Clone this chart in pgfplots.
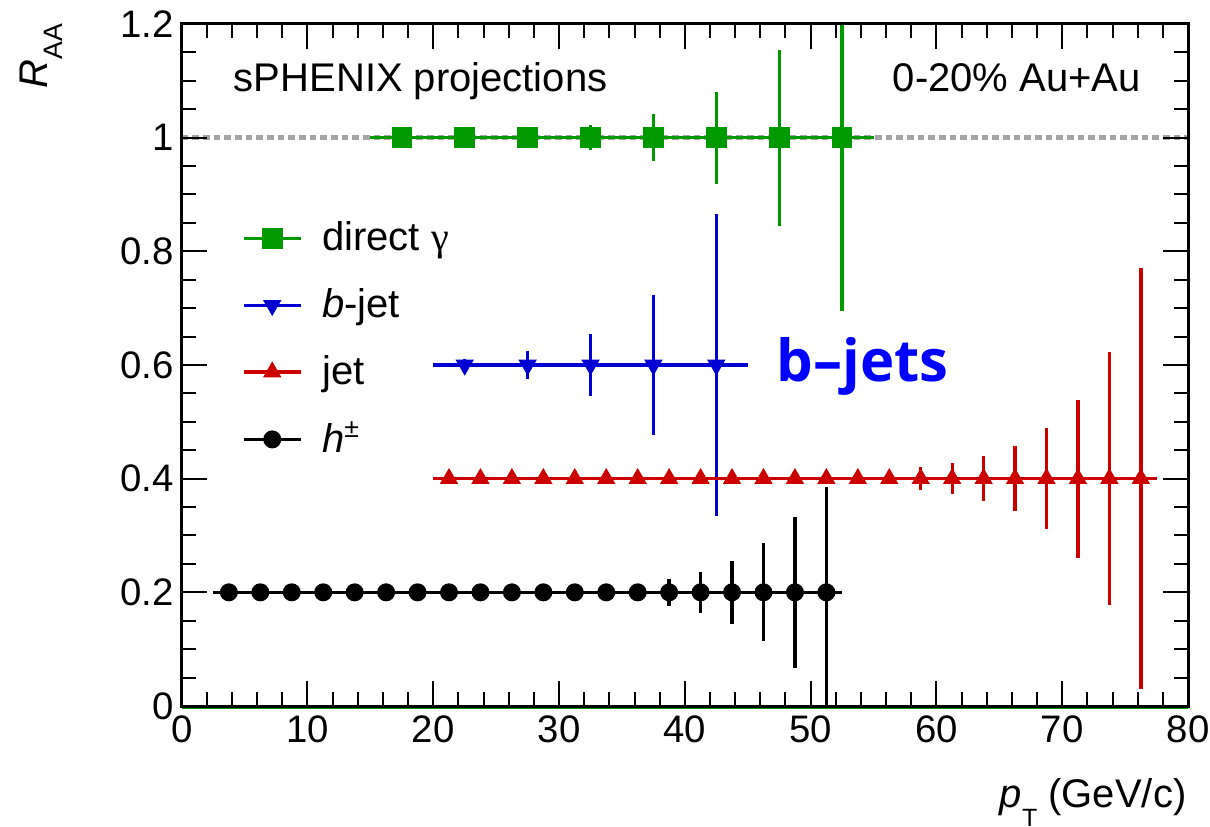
\documentclass[border=0pt]{standalone}
\usepackage{fontspec}
\setmainfont{Liberation Sans}
\newfontfamily\serifg{Liberation Serif}
\newfontfamily\bjfont{Open Sans}
\usepackage{pgfplots}
\pgfplotsset{compat=1.18}
\usepackage{pgfplotstable}

\definecolor{cgreen}{RGB}{0,153,0}
\definecolor{cblue}{RGB}{0,0,210}
\definecolor{cred}{RGB}{205,0,0}
\definecolor{cgray}{RGB}{165,165,165}
\definecolor{bjblue}{RGB}{0,0,255}

\pgfplotstableread{
x y ex ep em
17.5 1 2.5 0.003 0.003
22.5 1 2.5 0.006 0.006
27.5 1 2.5 0.011 0.011
32.5 1 2.5 0.022 0.022
37.5 1 2.5 0.041 0.041
42.5 1 2.5 0.081 0.081
47.5 1 2.5 0.155 0.155
52.5 1 2.5 0.200 0.305
}\gamtab

\pgfplotstableread{
x y ex ep em
22.5 0.6 2.5 0.010 0.010
27.5 0.6 2.5 0.024 0.024
32.5 0.6 2.5 0.054 0.054
37.5 0.6 2.5 0.123 0.123
42.5 0.6 2.5 0.266 0.266
}\bjettab

\pgfplotstableread{
x y ex ep em
21.25 0.4 1.25 0.002 0.002
23.75 0.4 1.25 0.002 0.002
26.25 0.4 1.25 0.002 0.002
28.75 0.4 1.25 0.003 0.003
31.25 0.4 1.25 0.003 0.003
33.75 0.4 1.25 0.003 0.003
36.25 0.4 1.25 0.003 0.003
38.75 0.4 1.25 0.004 0.004
41.25 0.4 1.25 0.004 0.004
43.75 0.4 1.25 0.004 0.004
46.25 0.4 1.25 0.005 0.005
48.75 0.4 1.25 0.005 0.005
51.25 0.4 1.25 0.005 0.005
53.75 0.4 1.25 0.006 0.006
56.25 0.4 1.25 0.008 0.008
58.75 0.4 1.25 0.020 0.020
61.25 0.4 1.25 0.027 0.027
63.75 0.4 1.25 0.039 0.039
66.25 0.4 1.25 0.057 0.057
68.75 0.4 1.25 0.089 0.089
71.25 0.4 1.25 0.139 0.139
73.75 0.4 1.25 0.223 0.223
76.25 0.4 1.25 0.370 0.370
}\jettab

\pgfplotstableread{
x y ex ep em
3.75 0.2 1.25 0.002 0.002
6.25 0.2 1.25 0.002 0.002
8.75 0.2 1.25 0.002 0.002
11.25 0.2 1.25 0.002 0.002
13.75 0.2 1.25 0.002 0.002
16.25 0.2 1.25 0.002 0.002
18.75 0.2 1.25 0.003 0.003
21.25 0.2 1.25 0.003 0.003
23.75 0.2 1.25 0.003 0.003
26.25 0.2 1.25 0.003 0.003
28.75 0.2 1.25 0.004 0.004
31.25 0.2 1.25 0.005 0.005
33.75 0.2 1.25 0.006 0.006
36.25 0.2 1.25 0.012 0.012
38.75 0.2 1.25 0.0235 0.0235
41.25 0.2 1.25 0.036 0.036
43.75 0.2 1.25 0.055 0.055
46.25 0.2 1.25 0.086 0.086
48.75 0.2 1.25 0.133 0.133
51.25 0.2 1.25 0.186 0.200
}\hadtab

\pgfplotstableread{
x y
0 1
80 1
}\onetab

\pgfplotstableread{
x y
0 -0.004
80 -0.004
}\zerotab

\begin{document}
\begin{tikzpicture}
\useasboundingbox (-54.51pt,-36.3pt) rectangle (308.49pt,211.8pt);
\begin{axis}[
  at={(0pt,0pt)}, anchor=south west,
  scale only axis, width=301.9pt, height=204.6pt,
  xmin=0, xmax=80, ymin=0, ymax=1.2,
  xtick={0,10,20,30,40,50,60,70,80},
  ytick={0,0.2,0.4,0.6,0.8,1,1.2},
  minor x tick num=4, minor y tick num=3,
  tick align=inside, xtick pos=both, ytick pos=both,
  xticklabel pos=lower, yticklabel pos=left,
  axis line style={line width=0.9pt},
  every tick/.style={black, line width=0.6pt},
  major tick length=7.5pt, minor tick length=4.2pt,
  tick label style={font=\fontsize{11.5}{13}\selectfont},
  xticklabel style={inner sep=0pt, yshift=-2.7pt},
  yticklabel style={inner sep=0pt, xshift=-2.2pt},
  /pgf/number format/assume math mode=true,
  clip=false,
  axis on top,
  xlabel={{\itshape p}\raisebox{-5.6pt}{\fontsize{7.5}{9}\selectfont T} (GeV/c)},
  xlabel style={at={(rel axis cs:0.999,-0.1056)}, anchor=north east, inner sep=0pt, font=\fontsize{12}{14.4}\selectfont},
  ylabel={{\itshape R}\raisebox{-4.5pt}{\fontsize{8}{9}\selectfont AA}},
  ylabel style={at={(rel axis cs:-0.1177,1.0015)}, anchor=south east, inner sep=0pt, font=\fontsize{12}{14.4}\selectfont},
  legend style={at={(axis description cs:0.0595,0.7208)}, anchor=north west, draw=none, fill=none,
    font=\fontsize{12}{14.4}\selectfont, row sep=5.8pt, column sep=4pt, inner sep=0pt, cells={anchor=west}},
  legend image code/.code={\draw[mark repeat=2, mark phase=2, #1] plot coordinates {(0pt,0pt) (8.5pt,0pt) (17pt,0pt)};},
  error bars/error bar style={line width=1pt},
]
\addplot[forget plot, cgray, line width=1.6pt, dash pattern=on 2pt off 1.2pt] table[x=x,y=y] {\onetab};
\addplot[forget plot, cgreen, line width=0.7pt] table[x=x,y=y] {\zerotab};

\addplot[cgreen, line width=1pt, mark=square*, mark size=2.9pt, mark options={solid, line width=0.4pt, fill=cgreen},
  error bars/.cd, x dir=both, x explicit, y dir=both, y explicit, error mark=none]
  table[x=x, y=y, x error=ex, y error plus=ep, y error minus=em] {\gamtab};
\addlegendentry{direct {\serifg γ}}

\addplot[cblue, line width=1pt, mark=triangle*, mark size=2.8pt, mark options={solid, line width=0.4pt, fill=cblue, rotate=180},
  error bars/.cd, x dir=both, x explicit, y dir=both, y explicit, error mark=none]
  table[x=x, y=y, x error=ex, y error plus=ep, y error minus=em] {\bjettab};
\addlegendentry{{\itshape b}-jet}

\addplot[cred, line width=1pt, mark=triangle*, mark size=2.8pt, mark options={solid, line width=0.4pt, fill=cred},
  error bars/.cd, x dir=both, x explicit, y dir=both, y explicit, error mark=none]
  table[x=x, y=y, x error=ex, y error plus=ep, y error minus=em] {\jettab};
\addlegendentry{jet}

\addplot[black, line width=1pt, mark=*, mark size=2.5pt, mark options={solid, line width=0.4pt, fill=black},
  error bars/.cd, x dir=both, x explicit, y dir=both, y explicit, error mark=none]
  table[x=x, y=y, x error=ex, y error plus=ep, y error minus=em] {\hadtab};
\addlegendentry{{\itshape h}\textsuperscript{±}}

\node[anchor=base west, inner sep=0pt, font=\fontsize{12}{14.4}\selectfont] at (axis cs:4.1,1.081) {sPHENIX projections};
\node[anchor=base east, inner sep=0pt, font=\fontsize{12}{14.4}\selectfont] at (axis cs:76.3,1.081) {0-20\% Au+Au};
\node[anchor=base west, inner sep=0pt, text=bjblue, font=\bjfont\bfseries\fontsize{17.4}{20}\selectfont] at (axis cs:47.24,0.571) {b–jets};
\end{axis}
\end{tikzpicture}
\end{document}
